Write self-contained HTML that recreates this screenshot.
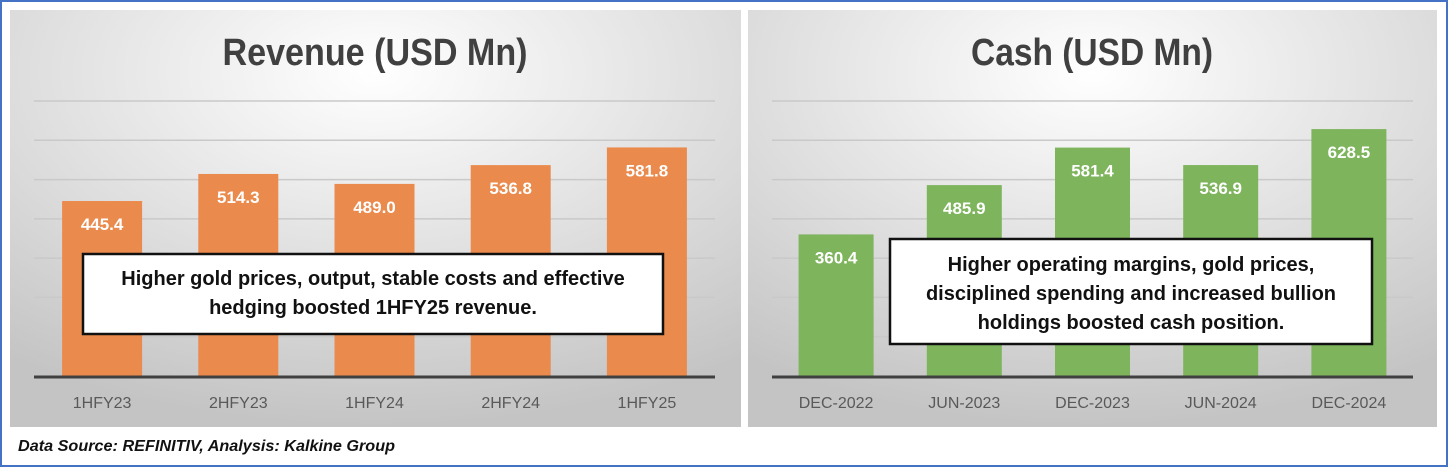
<!DOCTYPE html>
<html><head><meta charset="utf-8"><style>
html,body{margin:0;padding:0;background:#fff;}
svg{display:block;font-family:"Liberation Sans",sans-serif;}
</style></head><body>
<svg width="1448" height="467" viewBox="0 0 1448 467">
<defs>
<radialGradient id="bg" cx="0.5" cy="0.15" r="0.85">
<stop offset="0" stop-color="#ffffff"/><stop offset="0.6" stop-color="#dcdcdc"/><stop offset="1" stop-color="#c4c4c4"/>
</radialGradient>
</defs>
<rect x="1" y="1" width="1446" height="465" fill="#fff" stroke="#4472c4" stroke-width="2"/>
<rect x="10" y="10" width="731" height="417" fill="url(#bg)"/>
<rect x="748" y="10" width="689" height="417" fill="url(#bg)"/>
<g id="left"></g><g id="right"></g>
<text x="18" y="451" font-size="16" font-weight="bold" font-style="italic" fill="#111" textLength="377" lengthAdjust="spacingAndGlyphs">Data Source: REFINITIV, Analysis: Kalkine Group</text>
</svg>
<script>
const revCategories=["1HFY23","2HFY23","1HFY24","2HFY24","1HFY25"];
const revValues=[445.4,514.3,489.0,536.8,581.8];
const cashCategories=["DEC-2022","JUN-2023","DEC-2023","JUN-2024","DEC-2024"];
const cashValues=[360.4,485.9,581.4,536.9,628.5];
const yMax=700;
const gridTicks=[100,200,300,400,500,600,700];
const NS="http://www.w3.org/2000/svg";
function mk(parent,tag,attrs,txt){const e=document.createElementNS(NS,tag);for(const k in attrs)e.setAttribute(k,attrs[k]);if(txt!==undefined)e.textContent=txt;parent.appendChild(e);return e;}
function chart(g,cfg){
  const y=v=>cfg.base-(v/yMax)*(cfg.base-cfg.top);
  const step=(cfg.x1-cfg.x0)/cfg.cats.length;
  const xc=i=>cfg.x0+step*(i+0.5);
  const t=mk(g,'text',{x:cfg.titleX,y:65,'font-size':38,'font-weight':'bold',fill:'#404040','text-anchor':'middle',textLength:cfg.titleW,lengthAdjust:'spacingAndGlyphs'},cfg.title);
  
  
  gridTicks.forEach(v=>{const l=mk(g,'line',{x1:cfg.x0,x2:cfg.x1,y1:y(v),y2:y(v),stroke:'#c9c9c9','stroke-width':1.5});
    
    });
  cfg.vals.forEach((v,i)=>{
    const r=mk(g,'rect',{x:xc(i)-cfg.bw/2,y:y(v),width:cfg.bw,height:cfg.base-y(v),fill:cfg.color});
    
    
    const lb=mk(g,'text',{x:xc(i),y:y(v)+29,'font-size':17,'font-weight':'bold',fill:'#fff','text-anchor':'middle'},v.toFixed(1));
    
    
    const xl=mk(g,'text',{x:xc(i),y:408,'font-size':16,fill:'#595959','text-anchor':'middle'},cfg.cats[i]);
    
    
  });
  const ax=mk(g,'line',{x1:cfg.x0,x2:cfg.x1,y1:cfg.base+1,y2:cfg.base+1,stroke:'#404040','stroke-width':3});
  
  
  const b=cfg.box;
  const br=mk(g,'rect',{x:b[0],y:b[1],width:b[2],height:b[3],fill:'#fff',stroke:'#111','stroke-width':2.5});
  
  
  cfg.lines.forEach((s,i)=>{const tt=mk(g,'text',{x:b[0]+b[2]/2,y:cfg.ly0+i*cfg.lh,'font-size':20,'font-weight':'bold',fill:'#111','text-anchor':'middle'},s);
    
    });
}
chart(document.getElementById('left'),{title:"Revenue (USD Mn)",titleX:375,titleW:305,x0:34,x1:715,base:376,top:101,bw:80,color:"#ea8a4c",cats:revCategories,vals:revValues,
 box:[83,254,580,80],lines:["Higher gold prices, output, stable costs and effective","hedging boosted 1HFY25 revenue."],ly0:285,lh:29});
chart(document.getElementById('right'),{title:"Cash (USD Mn)",titleX:1092,titleW:242,x0:772,x1:1413,base:376,top:101,bw:75,color:"#7db45c",cats:cashCategories,vals:cashValues,
 box:[890,239,482,105],lines:["Higher operating margins, gold prices,","disciplined spending and increased bullion","holdings boosted cash position."],ly0:271,lh:29});
</script>
</body></html>
